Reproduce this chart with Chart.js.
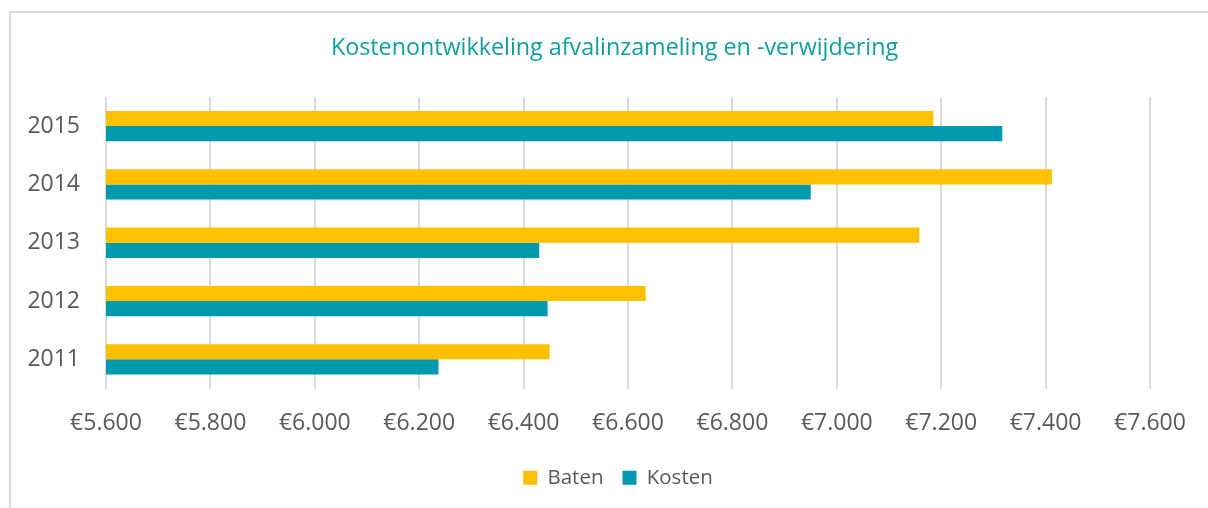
<!DOCTYPE html>
<html>
<head>
<meta charset="utf-8">
<script src="https://cdn.jsdelivr.net/npm/chart.js@4"></script>
<style>
  html, body { margin: 0; padding: 0; background: #ffffff; overflow: hidden; }
  #wrap { position: relative; width: 1208px; height: 508px; }
  #frame { position: absolute; left: 9px; top: 11px; width: 1300px; height: 600px; border: 2px solid #d9d9d9; box-sizing: border-box; }
  #box { position: absolute; left: 0; top: 0; width: 1208px; height: 508px; }
</style>
</head>
<body>
<div id="wrap">
  <div id="frame"></div>
  <div id="box"><canvas id="c"></canvas></div>
</div>
<script>
// Data (top to bottom as shown)
const years = ['2015', '2014', '2013', '2012', '2011'];
const baten = [7185, 7412, 7158, 6634, 6450];
const kosten = [7317, 6950, 6430, 6446, 6237];
const seriesNames = ['Baten', 'Kosten'];
const chartTitle = 'Kostenontwikkeling afvalinzameling en -verwijdering';
const axisMin = 5600, axisMax = 7600, axisStep = 200;

const FONT = "'Open Sans', 'DejaVu Sans', sans-serif";
const TEXT = '#595959';

function euro(v) {
  return '€' + String(v).replace(/\B(?=(\d{3})+(?!\d))/g, '.');
}

// Centre title and legend on the plot area like the original
const centerShift = {
  id: 'centerShift',
  afterLayout(chart) {
    if (chart.legend) chart.legend.left += 60;
    if (chart.titleBlock) chart.titleBlock.left += 53;
  }
};

new Chart(document.getElementById('c'), {
  type: 'bar',
  data: {
    labels: years,
    datasets: [
      { label: seriesNames[0], data: baten, backgroundColor: '#FFC000', borderWidth: 0,
        categoryPercentage: 0.52, barPercentage: 1.0 },
      { label: seriesNames[1], data: kosten, backgroundColor: '#009AAF', borderWidth: 0,
        categoryPercentage: 0.52, barPercentage: 1.0 }
    ]
  },
  plugins: [centerShift],
  options: {
    indexAxis: 'y',
    responsive: true,
    maintainAspectRatio: false,
    animation: false,
    layout: { padding: { left: 26, right: 58, top: 0, bottom: 10 } },
    scales: {
      x: {
        min: axisMin, max: axisMax,
        ticks: { stepSize: axisStep, color: TEXT, font: { family: FONT, size: 23 }, padding: 21,
                 maxRotation: 0, callback: (v) => euro(v) },
        grid: { color: '#dadada', lineWidth: 2, drawTicks: false },
        border: { display: false },
        afterFit: (s) => { s.height = 60; }
      },
      y: {
        ticks: { color: TEXT, font: { family: FONT, size: 23 }, padding: 26 },
        grid: { display: false, drawTicks: false },
        border: { display: false },
        afterFit: (s) => { s.width = 80; }
      }
    },
    plugins: {
      title: {
        display: true, text: chartTitle, color: '#139E9E',
        font: { family: FONT, size: 23.3, weight: 'normal' },
        padding: { top: 34, bottom: 35 }
      },
      legend: {
        position: 'bottom',
        labels: { color: TEXT, font: { family: FONT, size: 20.5 }, boxWidth: 14, boxHeight: 14, padding: 19 }
      },
      tooltip: { enabled: false }
    }
  }
});
</script>
</body>
</html>
